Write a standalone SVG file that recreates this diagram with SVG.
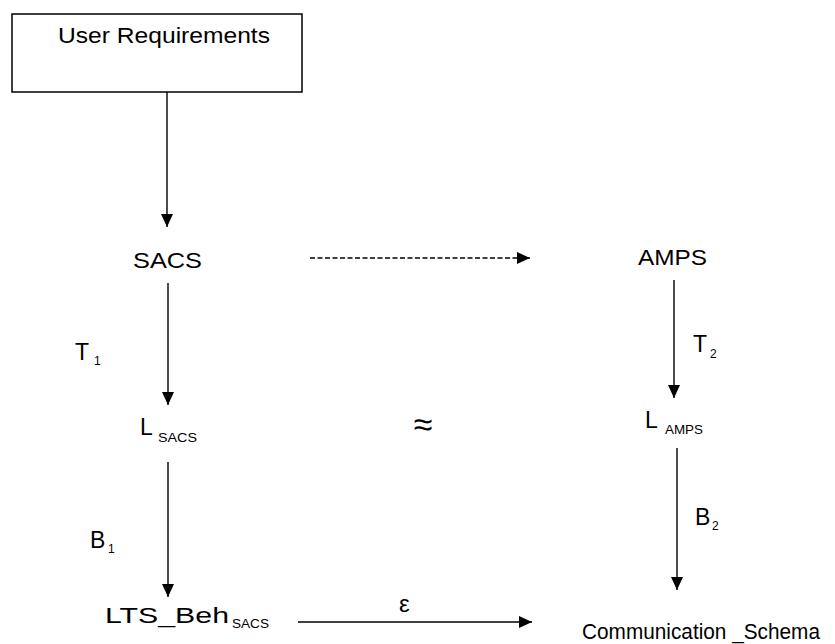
<svg xmlns="http://www.w3.org/2000/svg" width="835" height="644" viewBox="0 0 835 644">
  <defs>
    <marker id="arrow" markerUnits="userSpaceOnUse" markerWidth="14" markerHeight="12" refX="13" refY="6" orient="auto">
      <path d="M0,0 L13,6 L0,12 Z" fill="#000"/>
    </marker>
    <style>
      text { font-family: "Liberation Sans", Arial, sans-serif; fill: #000; }
      .lbl { font-size: 22px; }
      .big { font-size: 23px; }
      .sub { font-size: 13px; }
      .idx { font-size: 12px; }
      .edge { stroke: #000; stroke-width: 1.4; fill: none; marker-end: url(#arrow); }
      .dashed { stroke-dasharray: 5 2.5; }
    </style>
  </defs>

  <rect width="835" height="644" fill="#fff"/>

  <!-- connectors -->
  <g id="connectors">
    <line class="edge" x1="167" y1="92" x2="167" y2="227"/>
    <line class="edge" x1="168" y1="283" x2="168" y2="405"/>
    <line class="edge" x1="168" y1="462" x2="168" y2="597"/>
    <line class="edge" x1="674" y1="280" x2="674" y2="398"/>
    <line class="edge" x1="677" y1="448" x2="677" y2="590"/>
    <line class="edge dashed" x1="310" y1="258" x2="530" y2="258"/>
    <line class="edge" x1="298" y1="622" x2="532" y2="622"/>
  </g>

  <!-- nodes -->
  <g id="user-requirements">
    <rect x="12" y="14" width="290" height="78" fill="none" stroke="#000" stroke-width="1.5"/>
    <text class="lbl" x="58" y="43" textLength="212" lengthAdjust="spacingAndGlyphs">User Requirements</text>
  </g>

  <g id="sacs">
    <text class="lbl" x="133" y="268" textLength="69" lengthAdjust="spacingAndGlyphs">SACS</text>
  </g>

  <g id="amps">
    <text class="lbl" x="638" y="265" textLength="69" lengthAdjust="spacingAndGlyphs">AMPS</text>
  </g>

  <g id="l-sacs">
    <text class="big" x="140" y="435">L</text>
    <text class="sub" x="158" y="442" textLength="39" lengthAdjust="spacingAndGlyphs">SACS</text>
  </g>

  <g id="l-amps">
    <text class="big" x="645" y="428">L</text>
    <text class="sub" x="665" y="434" textLength="38" lengthAdjust="spacingAndGlyphs">AMPS</text>
  </g>

  <g id="lts-beh-sacs">
    <text class="lbl" x="105" y="623" textLength="124" lengthAdjust="spacingAndGlyphs">LTS_Beh</text>
    <text class="sub" x="232" y="628" textLength="37" lengthAdjust="spacingAndGlyphs">SACS</text>
  </g>

  <g id="communication-schema">
    <text class="lbl" x="582" y="639" textLength="238" lengthAdjust="spacingAndGlyphs">Communication _Schema</text>
  </g>

  <!-- edge labels -->
  <g id="labels">
    <text class="big" x="75" y="360">T</text>
    <text class="idx" x="94" y="365">1</text>
    <text class="big" x="693" y="352">T</text>
    <text class="idx" x="710" y="358">2</text>
    <text class="big" x="90" y="548">B</text>
    <text class="idx" x="108" y="553">1</text>
    <text class="big" x="695" y="525">B</text>
    <text class="idx" x="712" y="530">2</text>
    <text x="399" y="612" font-size="24" font-family="'DejaVu Sans', sans-serif">ε</text>
    <text x="423" y="436" font-size="34" text-anchor="middle" font-family="'DejaVu Sans', sans-serif">≈</text>
  </g>
</svg>
